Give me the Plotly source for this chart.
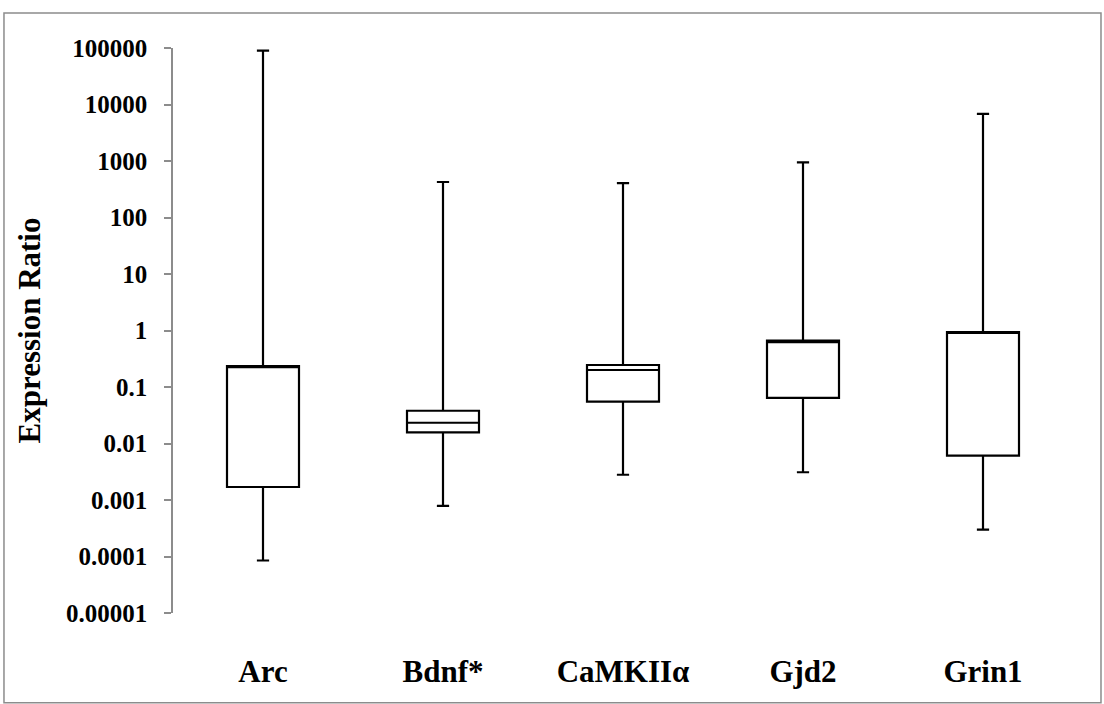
import plotly.graph_objects as go

# Expression ratio summary per gene (log-scale box plot)
genes = ["Arc", "Bdnf*", "CaMKIIα", "Gjd2", "Grin1"]
whisker_low = [0.000085, 0.00079, 0.0028, 0.0031, 0.0003]
quartile_1 = [0.0017, 0.0157, 0.055, 0.064, 0.0061]
medians = [0.235, 0.0233, 0.20, 0.62, 0.94]
quartile_3 = [0.235, 0.038, 0.245, 0.66, 0.94]
whisker_high = [90000, 425, 407, 945, 6800]

tick_values = [1e-5, 1e-4, 1e-3, 1e-2, 1e-1, 1, 10, 100, 1000, 10000, 100000]
tick_labels = ["0.00001", "0.0001", "0.001", "0.01", "0.1", "1",
               "10", "100", "1000", "10000", "100000"]

serif = "Liberation Serif, Times New Roman, serif"

fig = go.Figure(
    go.Box(
        x=genes,
        q1=quartile_1,
        median=medians,
        q3=quartile_3,
        lowerfence=whisker_low,
        upperfence=whisker_high,
        boxpoints=False,
        width=0.4,
        whiskerwidth=0.17,
        fillcolor="white",
        line=dict(color="black", width=2.2),
        hoverinfo="skip",
    )
)

fig.update_layout(
    width=1104,
    height=704,
    margin=dict(l=173, r=31, t=48, b=91),
    paper_bgcolor="white",
    plot_bgcolor="white",
    showlegend=False,
    font=dict(family=serif, color="black"),
    xaxis=dict(
        type="category",
        range=[-0.5, 4.5],
        showline=False,
        showgrid=False,
        zeroline=False,
        ticks="",
        ticklabelstandoff=37,
        tickfont=dict(family=serif, size=31, weight="bold", color="black"),
    ),
    yaxis=dict(
        type="log",
        range=[-5, 5],
        tickvals=tick_values,
        ticktext=tick_labels,
        showgrid=False,
        zeroline=False,
        showline=True,
        linecolor="#8c8c8c",
        linewidth=1.5,
        ticks="outside",
        ticklen=7,
        tickcolor="#8c8c8c",
        tickwidth=1.5,
        ticklabelstandoff=12,
        tickfont=dict(family=serif, size=25, weight="bold", color="black"),
        title=dict(
            text="Expression Ratio",
            font=dict(family=serif, size=31, weight="bold", color="black"),
            standoff=16,
        ),
    ),
    shapes=[
        dict(
            type="rect",
            xref="paper",
            yref="paper",
            x0=-0.1878,
            x1=1.0311,
            y0=-0.159,
            y1=1.0619,
            line=dict(color="#8c8c8c", width=1.5),
            fillcolor="rgba(0,0,0,0)",
            layer="below",
        )
    ],
)

fig.write_html("out.html")
